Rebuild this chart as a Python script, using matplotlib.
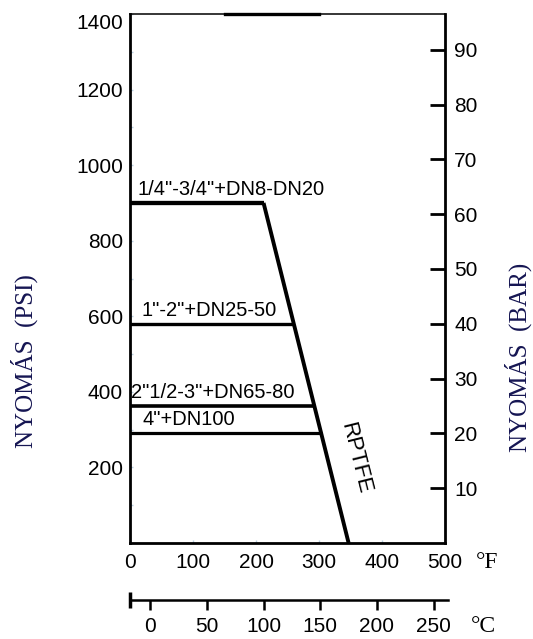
import matplotlib
matplotlib.use("Agg")
import matplotlib.pyplot as plt

plt.rcParams["font.family"] = ["Liberation Sans", "DejaVu Sans"]

PSI_PER_BAR = 14.5038

# pressure rating per valve size (psi) and temperature where it meets the RPTFE limit (F)
size_labels = ['1/4"-3/4"+DN8-DN20', '1"-2"+DN25-50', '2"1/2-3"+DN65-80', '4"+DN100']
size_psi = [900, 580, 362, 290]
size_end_f = [212, 260, 293, 304]

# RPTFE seat limit line
limit_f = [212, 347]
limit_psi = [900, 0]

psi_ticks = [200, 400, 600, 800, 1000, 1200, 1400]
psi_minor = [100, 300, 500, 700, 900, 1100, 1300]
bar_ticks = [10, 20, 30, 40, 50, 60, 70, 80, 90]
f_ticks = [0, 100, 200, 300, 400, 500]
c_ticks = [0, 50, 100, 150, 200, 250]

# styling / layout
size_lw = [3.1, 2.4, 2.6, 2.3]
label_x = [12, 18, 2, 20]
top_mark_f = [150, 300]


def f2c(f):
    return (f - 32) / 1.8


W, H = 533, 639
fig = plt.figure(figsize=(W / 100, H / 100), dpi=100)
ax = fig.add_axes([130 / W, 1 - 543 / H, 315 / W, 529 / H])
ax.set_xlim(0, 500)
ax.set_ylim(0, 1400)

for psi, end, lw in zip(size_psi, size_end_f, size_lw):
    ax.plot([0, end], [psi, psi], color="black", lw=lw, solid_capstyle="butt")
ax.plot(limit_f, limit_psi, color="black", lw=2.8, solid_capstyle="butt", clip_on=False)

for lab, x, psi in zip(size_labels, label_x, size_psi):
    ax.annotate(lab, (x, psi), xytext=(0, 5.8), textcoords="offset points",
                fontsize=14.5, va="baseline", ha="left")

ax.text(357, 225, "RPTFE", rotation=-76, rotation_mode="anchor",
        ha="center", va="center", fontsize=16)

# thick bit on the top border
ax.plot(top_mark_f, [1400, 1400], color="black", lw=2.4, clip_on=False)

for s in ["left", "bottom"]:
    ax.spines[s].set_linewidth(2.0)
ax.spines["top"].set_linewidth(1.1)
ax.spines["right"].set_visible(False)

ax.set_yticks(psi_ticks)
ax.set_yticks(psi_minor, minor=True)
ax.set_xticks(f_ticks)
ax.tick_params(axis="y", which="both", direction="in", length=2, width=1,
               color="#b8cfe0", labelsize=15, pad=5)
ax.tick_params(axis="x", which="both", direction="in", length=2, width=1,
               color="#b8cfe0", labelsize=15, pad=7)
ax.get_yticklabels()[-1].set_va("top")

# bar scale on the right
axr = ax.twinx()
axr.set_ylim(0, 1400 / PSI_PER_BAR)
axr.set_yticks(bar_ticks)
axr.tick_params(axis="y", direction="in", length=10.5, width=2, labelsize=15, pad=6.5)
for s in ["left", "top", "bottom"]:
    axr.spines[s].set_visible(False)
axr.spines["right"].set_linewidth(2.0)

# celsius scale below
axc = fig.add_axes([130 / W, 1 - 600 / H, 315 * 1.01 / W, 0.0001])
axc.set_xlim(f2c(0), f2c(505))
axc.set_ylim(0, 1)
for s in ["left", "top", "right"]:
    axc.spines[s].set_visible(False)
axc.spines["bottom"].set_linewidth(1.8)
axc.set_yticks([])
axc.set_xticks(c_ticks)
axc.tick_params(axis="x", direction="out", length=7, width=1.8, labelsize=15, pad=5)
axc.plot([f2c(0)], [0], marker="|", ms=11, mew=2.5, color="black", clip_on=False)

fig.text(487 / W, 1 - 563 / H, "°F", family="Liberation Serif", fontsize=17,
         ha="center", va="center")
fig.text(483 / W, 1 - 627 / H, "°C", family="Liberation Serif", fontsize=17,
         ha="center", va="center")

fig.text(24 / W, 1 - 361 / H, "NYOMÁS  (PSI)", rotation=90, family="Liberation Serif",
         fontsize=18, color="#151552", ha="center", va="center")
fig.text(532 / W, 1 - 357 / H, "NYOMÁS  (BAR)", rotation=90, family="Liberation Serif",
         fontsize=18, color="#151552", ha="right", va="center")

fig.savefig("out.png", dpi=100)
